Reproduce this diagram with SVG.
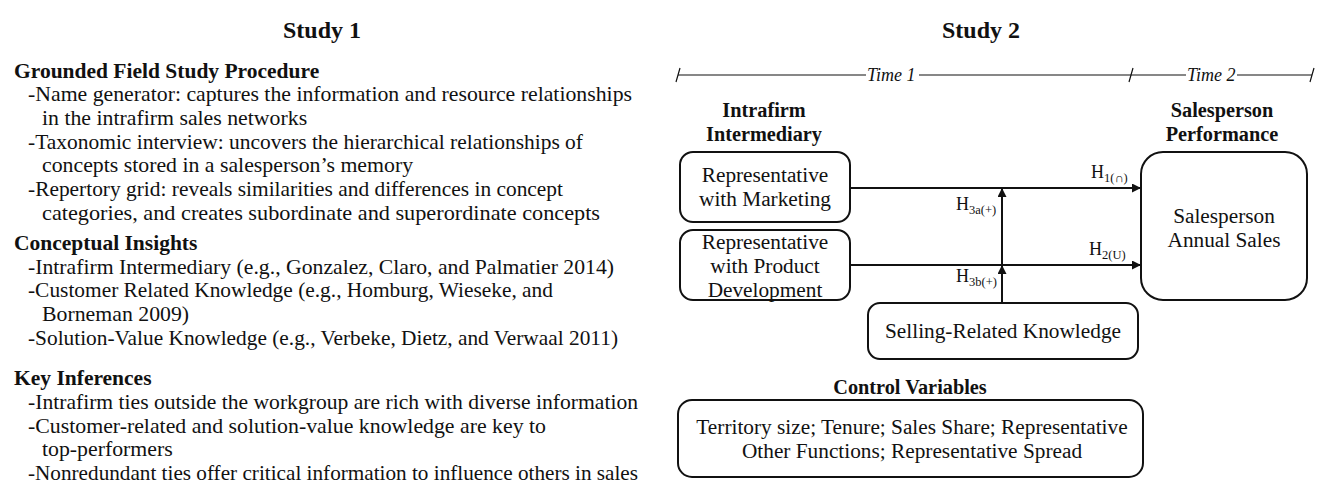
<svg xmlns="http://www.w3.org/2000/svg" width="1318" height="484" viewBox="0 0 1318 484">
<style>
text{font-family:"Liberation Serif","Times New Roman",serif;fill:#111}
.t{font-size:21.8px}
.r{font-size:21.3px}
.b{font-size:21.5px;font-weight:bold}
.rb{font-size:20.3px;font-weight:bold}
.h{font-size:24px;font-weight:bold}
.m{text-anchor:middle}
.i{font-size:18px;font-style:italic}
.s{font-size:18px}
.sub{font-size:12.5px}
.box{fill:#fff;stroke:#111;stroke-width:2}
.ln{stroke:#111;stroke-width:2;fill:none}
.tl{stroke:#111;stroke-width:1.2;fill:none}
</style>
<defs>
<marker id="ah" viewBox="0 0 10 10" refX="10" refY="5" markerWidth="10" markerHeight="9" markerUnits="userSpaceOnUse" orient="auto">
<path d="M0,0 L10,5 L0,10 z" fill="#111"/>
</marker>
</defs>
<rect width="1318" height="484" fill="#fff"/>

<g id="study1">
<text class="h m" x="322" y="38">Study 1</text>
<text class="b" x="14" y="78">Grounded Field Study Procedure</text>
<text class="t" x="28" y="101" textLength="604" lengthAdjust="spacingAndGlyphs">-Name generator: captures the information and resource relationships</text>
<text class="t" x="42" y="125">in the intrafirm sales networks</text>
<text class="t" x="28" y="149" textLength="555" lengthAdjust="spacingAndGlyphs">-Taxonomic interview: uncovers the hierarchical relationships of</text>
<text class="t" x="42" y="172">concepts stored in a salesperson’s memory</text>
<text class="t" x="28" y="196" textLength="535" lengthAdjust="spacingAndGlyphs">-Repertory grid: reveals similarities and differences in concept</text>
<text class="t" x="42" y="220" textLength="558" lengthAdjust="spacingAndGlyphs">categories, and creates subordinate and superordinate concepts</text>
<text class="b" x="14" y="250">Conceptual Insights</text>
<text class="t" x="28" y="274" textLength="586" lengthAdjust="spacingAndGlyphs">-Intrafirm Intermediary (e.g., Gonzalez, Claro, and Palmatier 2014)</text>
<text class="t" x="28" y="297" textLength="525" lengthAdjust="spacingAndGlyphs">-Customer Related Knowledge (e.g., Homburg, Wieseke, and</text>
<text class="t" x="42" y="321">Borneman 2009)</text>
<text class="t" x="28" y="345" textLength="590" lengthAdjust="spacingAndGlyphs">-Solution-Value Knowledge (e.g., Verbeke, Dietz, and Verwaal 2011)</text>
<text class="b" x="14" y="385">Key Inferences</text>
<text class="t" x="28" y="409" textLength="610" lengthAdjust="spacingAndGlyphs">-Intrafirm ties outside the workgroup are rich with diverse information</text>
<text class="t" x="28" y="433" textLength="518" lengthAdjust="spacingAndGlyphs">-Customer-related and solution-value knowledge are key to</text>
<text class="t" x="42" y="456">top-performers</text>
<text class="t" x="28" y="480" textLength="610" lengthAdjust="spacingAndGlyphs">-Nonredundant ties offer critical information to influence others in sales</text>
</g>

<g id="study2-title">
<text class="h m" x="981" y="38">Study 2</text>
</g>

<g id="timeline">
<path class="tl" d="M678,75 H866 M919,75 H1186 M1237,75 H1312"/>
<path class="tl" d="M676,82 L680,68 M1129,82 L1133,68 M1310,82 L1314,68"/>
<text class="i" x="867" y="81">Time 1</text>
<text class="i" x="1187" y="81">Time 2</text>
</g>

<g id="head-intrafirm">
<text class="rb m" x="764" y="117">Intrafirm</text>
<text class="rb m" x="764" y="141">Intermediary</text>
</g>
<g id="head-performance">
<text class="rb m" x="1222" y="117">Salesperson</text>
<text class="rb m" x="1222" y="141">Performance</text>
</g>

<g id="node-marketing">
<rect class="box" x="680" y="152" width="170" height="70" rx="13"/>
<text class="r m" x="765" y="182">Representative</text>
<text class="r m" x="765" y="206">with Marketing</text>
</g>

<g id="node-product">
<rect class="box" x="680" y="230" width="170" height="70" rx="13"/>
<text class="r m" x="765" y="249">Representative</text>
<text class="r m" x="765" y="273">with Product</text>
<text class="r m" x="765" y="297">Development</text>
</g>

<g id="node-sales">
<rect class="box" x="1141" y="152" width="166" height="148" rx="22"/>
<text class="r m" x="1224" y="223">Salesperson</text>
<text class="r m" x="1224" y="247">Annual Sales</text>
</g>

<g id="node-selling">
<rect class="box" x="868" y="303" width="270" height="56" rx="12"/>
<text class="r m" x="1003" y="338">Selling-Related Knowledge</text>
</g>

<g id="control">
<text class="rb m" x="910" y="394">Control Variables</text>
<rect class="box" x="678" y="400" width="465" height="77" rx="14"/>
<text class="r m" x="912" y="434">Territory size; Tenure; Sales Share; Representative</text>
<text class="r m" x="912" y="458">Other Functions; Representative Spread</text>
</g>

<g id="connectors">
<path class="ln" d="M850,188 H1141" marker-end="url(#ah)"/>
<path class="ln" d="M850,265 H1141" marker-end="url(#ah)"/>
<path class="ln" d="M1002,303 V265" marker-end="url(#ah)"/>
<path class="ln" d="M1002,265 V188" marker-end="url(#ah)"/>
<text class="s" x="1091" y="178">H<tspan class="sub" dy="4">1(∩)</tspan></text>
<text class="s" x="1089" y="255">H<tspan class="sub" dy="4">2(U)</tspan></text>
<text class="s" x="956" y="210">H<tspan class="sub" dy="4">3a(+)</tspan></text>
<text class="s" x="956" y="282">H<tspan class="sub" dy="4">3b(+)</tspan></text>
</g>
</svg>
